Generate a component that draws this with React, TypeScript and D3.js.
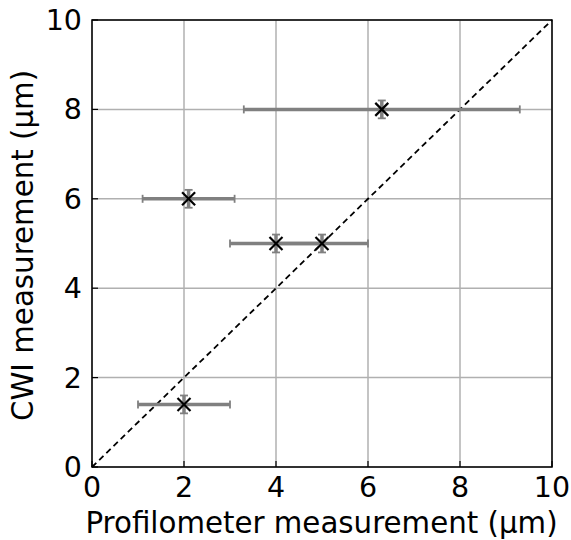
import React from "react";
import * as d3 from "d3";

const xVals = [6.3, 2.1, 4.0, 5.0, 2.0];
const yVals = [8.0, 6.0, 5.0, 5.0, 1.4];
const xErrs = [3.0, 1.0, 1.0, 1.0, 1.0];
const yErrs = [0.2, 0.2, 0.2, 0.2, 0.2];
const ticks = [0, 2, 4, 6, 8, 10];

const W = 571, H = 540;
const m = { left: 92, right: 552, top: 20, bottom: 467 };

export default function App() {
  const x = d3.scaleLinear().domain([0, 10]).range([m.left, m.right]);
  const y = d3.scaleLinear().domain([0, 10]).range([m.bottom, m.top]);
  const font = "DejaVu Sans, sans-serif";
  const pts = xVals.map((v, i) => ({ x: v, y: yVals[i], xe: xErrs[i], ye: yErrs[i] }));
  const errColor = "#808080";
  const cap = 4;
  const ms = 6.5;
  return (
    <svg width={W} height={H} style={{ position: "absolute", left: 0, top: 0, background: "#fff" }}>
      <rect x={0} y={0} width={W} height={H} fill="#fff" />
      {ticks.map((t) => (
        <g key={"g" + t}>
          <line x1={x(t)} x2={x(t)} y1={m.top} y2={m.bottom} stroke="#b0b0b0" strokeWidth={1.5} />
          <line x1={m.left} x2={m.right} y1={y(t)} y2={y(t)} stroke="#b0b0b0" strokeWidth={1.5} />
        </g>
      ))}
      <line x1={x(0)} y1={y(0)} x2={x(10)} y2={y(10)} stroke="#000" strokeWidth={1.8} strokeDasharray="6,4" />
      {pts.map((p, i) => (
        <g key={"e" + i} stroke={errColor} strokeWidth={3.5}>
          <line x1={x(p.x - p.xe)} x2={x(p.x + p.xe)} y1={y(p.y)} y2={y(p.y)} />
          <line x1={x(p.x - p.xe)} x2={x(p.x - p.xe)} y1={y(p.y) - cap} y2={y(p.y) + cap} strokeWidth={1.8} />
          <line x1={x(p.x + p.xe)} x2={x(p.x + p.xe)} y1={y(p.y) - cap} y2={y(p.y) + cap} strokeWidth={1.8} />
          <line x1={x(p.x)} x2={x(p.x)} y1={y(p.y - p.ye)} y2={y(p.y + p.ye)} />
          <line x1={x(p.x) - cap} x2={x(p.x) + cap} y1={y(p.y - p.ye)} y2={y(p.y - p.ye)} strokeWidth={1.8} />
          <line x1={x(p.x) - cap} x2={x(p.x) + cap} y1={y(p.y + p.ye)} y2={y(p.y + p.ye)} strokeWidth={1.8} />
        </g>
      ))}
      {pts.map((p, i) => (
        <g key={"m" + i} stroke="#000" strokeWidth={2.2}>
          <line x1={x(p.x) - ms} x2={x(p.x) + ms} y1={y(p.y) - ms} y2={y(p.y) + ms} />
          <line x1={x(p.x) - ms} x2={x(p.x) + ms} y1={y(p.y) + ms} y2={y(p.y) - ms} />
        </g>
      ))}
      <rect x={m.left} y={m.top} width={m.right - m.left} height={m.bottom - m.top} fill="none" stroke="#000" strokeWidth={1.5} />
      {ticks.map((t) => (
        <g key={"t" + t}>
          <line x1={x(t)} x2={x(t)} y1={m.bottom} y2={m.bottom - 6} stroke="#000" strokeWidth={1.2} />
          <line x1={m.left} x2={m.left + 6} y1={y(t)} y2={y(t)} stroke="#000" strokeWidth={1.2} />
          <text x={x(t)} y={m.bottom + 30} textAnchor="middle" fontFamily={font} fontSize={28.5}>{t}</text>
          <text x={m.left - 10} y={y(t) + 10} textAnchor="end" fontFamily={font} fontSize={28.5}>{t}</text>
        </g>
      ))}
      <text x={(m.left + m.right) / 2 - 0.5} y={533} textAnchor="middle" fontFamily={font} fontSize={29.3}>Profilometer measurement (µm)</text>
      <text transform={`translate(33,${(m.top + m.bottom) / 2 + 2}) rotate(-90)`} textAnchor="middle" fontFamily={font} fontSize={29.3}>CWI measurement (µm)</text>
    </svg>
  );
}
